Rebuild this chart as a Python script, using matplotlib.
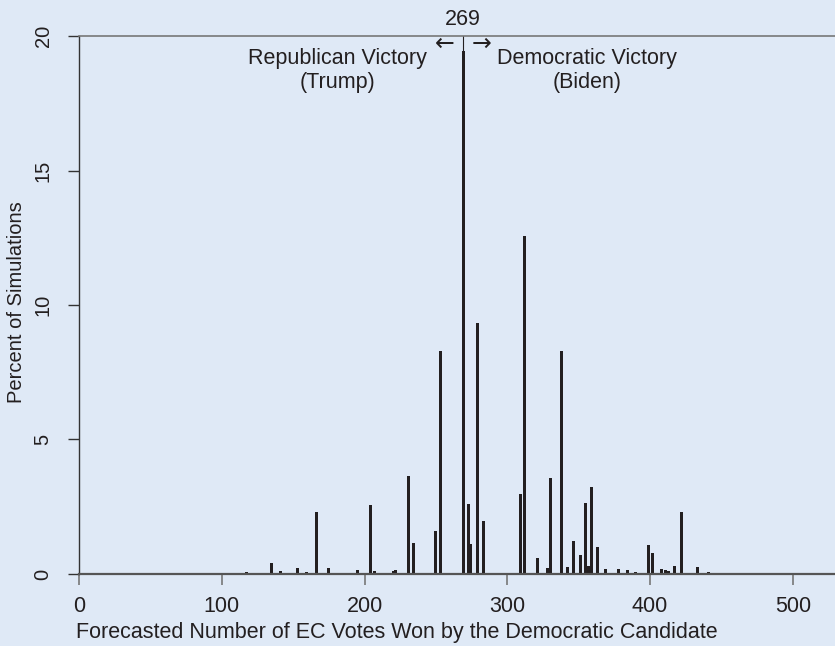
import numpy as np
import matplotlib
matplotlib.use('Agg')
import matplotlib.pyplot as plt

plt.rcParams['font.family'] = ['Liberation Sans', 'DejaVu Sans']

# EC votes for the Democratic candidate and share of simulations (%)
ec_votes = [90, 103, 107, 111, 117, 123, 129, 135, 141, 145, 149, 153, 159, 166,
            175, 183, 192, 195, 204, 207, 214, 220, 222, 231, 234, 238, 248, 250,
            253, 269, 273, 274, 279, 283, 288, 292, 308, 309, 312, 321, 324, 328,
            330, 333, 338, 342, 346, 348, 351, 355, 357, 359, 363, 365, 369, 373,
            378, 384, 390, 399, 402, 408, 411, 413, 417, 422, 427, 430, 433, 439,
            441, 444, 448, 451, 455, 458, 460, 464, 471, 478, 482, 486, 490]
pct_sims = [0.03, 0.03, 0.03, 0.03, 0.06, 0.03, 0.03, 0.41, 0.12, 0.05, 0.03, 0.22, 0.09, 2.30,
            0.22, 0.03, 0.04, 0.15, 2.56, 0.10, 0.04, 0.10, 0.13, 3.64, 1.15, 0.03, 0.04, 1.60,
            8.29, 19.44, 2.60, 1.12, 9.33, 1.97, 0.04, 0.03, 0.05, 2.97, 12.57, 0.60, 0.04, 0.22,
            3.57, 0.04, 8.29, 0.26, 1.22, 0.04, 0.70, 2.64, 0.29, 3.23, 1.00, 0.04, 0.18, 0.04,
            0.18, 0.15, 0.08, 1.08, 0.78, 0.18, 0.15, 0.11, 0.30, 2.30, 0.03, 0.03, 0.26, 0.03,
            0.08, 0.05, 0.05, 0.04, 0.03, 0.03, 0.05, 0.05, 0.05, 0.03, 0.03, 0.03, 0.03]

x_ticks = [0, 100, 200, 300, 400, 500]
y_ticks = [0, 5, 10, 15, 20]

bg = '#dfe9f6'
ink = '#231f20'
fs = 15.5
fig = plt.figure(figsize=(8.35, 6.46), dpi=100, facecolor=bg)
ax = fig.add_axes([0.0946, 0.1115, 0.9054, 0.8327])
ax.set_facecolor(bg)

ax.axvline(269, color=ink, lw=0.8, zorder=1)
ax.bar(ec_votes, pct_sims, width=2.1, color=ink, zorder=2)

ax.set_xlim(0, 529.5)
ax.set_ylim(0, 20)
ax.set_xticks(x_ticks)
ax.set_yticks(y_ticks)
ax.tick_params(axis='x', length=8, width=1.2, color='#777777', labelsize=fs,
               labelcolor=ink, pad=8)
ax.tick_params(axis='y', length=8, width=1.0, color='#333333', labelsize=14.5,
               labelcolor=ink, labelrotation=90, pad=11)
for lab in ax.get_yticklabels():
    lab.set_verticalalignment('center')

ax.spines['right'].set_visible(False)
ax.spines['left'].set_color('#333333')
ax.spines['left'].set_linewidth(1.0)
ax.spines['top'].set_color('#777777')
ax.spines['top'].set_linewidth(1.2)
ax.spines['bottom'].set_color('#555555')
ax.spines['bottom'].set_linewidth(1.6)

ax.set_xlabel('Forecasted Number of EC Votes Won by the Democratic Candidate',
              fontsize=fs, color=ink)
ax.xaxis.set_label_coords(0.421, -0.108)
ax.xaxis.label.set_verticalalignment('center')
ax.set_ylabel('Percent of Simulations', fontsize=14.5, color=ink)
ax.yaxis.set_label_coords(-0.083, 0.506)
ax.yaxis.label.set_verticalalignment('center')

ax.text(269, 20.62, '269', ha='center', va='center', fontsize=fs, color=ink)
ax.text(256, 19.7, '\u2190', ha='center', va='center', fontsize=17, color=ink,
        family='DejaVu Sans')
ax.text(282, 19.7, '\u2192', ha='center', va='center', fontsize=17, color=ink,
        family='DejaVu Sans')
ax.text(181, 19.18, 'Republican Victory', ha='center', va='center', fontsize=fs, color=ink)
ax.text(181, 18.29, '(Trump)', ha='center', va='center', fontsize=fs, color=ink)
ax.text(356, 19.18, 'Democratic Victory', ha='center', va='center', fontsize=fs, color=ink)
ax.text(356, 18.29, '(Biden)', ha='center', va='center', fontsize=fs, color=ink)

fig.savefig('out.png', dpi=100, facecolor=bg)
